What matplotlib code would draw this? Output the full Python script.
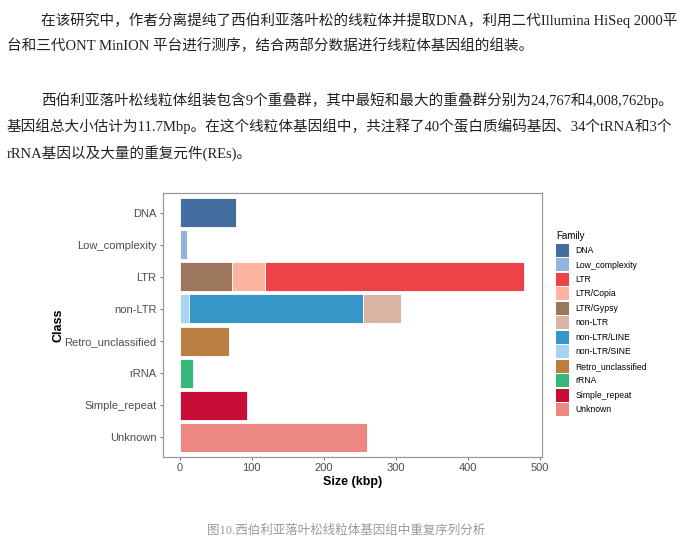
import matplotlib.pyplot as plt
from matplotlib.patches import Patch

# classes shown on the y axis (top to bottom)
classes = ['DNA', 'Low_complexity', 'LTR', 'non-LTR', 'Retro_unclassified',
           'rRNA', 'Simple_repeat', 'Unknown']

# legend order and colours
families = ['DNA', 'Low_complexity', 'LTR', 'LTR/Copia', 'LTR/Gypsy', 'non-LTR',
            'non-LTR/LINE', 'non-LTR/SINE', 'Retro_unclassified', 'rRNA',
            'Simple_repeat', 'Unknown']
family_colors = ['#456ea0', '#93b4dc', '#ef4247', '#feb5a0', '#9c775e', '#d9b5a6',
                 '#3696c8', '#a5d5f1', '#bb7e42', '#37b87b', '#c90d39', '#ec8881']

# bar segments, stacked from 0 outwards (kbp)
seg_class = ['DNA', 'Low_complexity', 'LTR', 'LTR', 'LTR', 'non-LTR', 'non-LTR',
             'non-LTR', 'Retro_unclassified', 'rRNA', 'Simple_repeat', 'Unknown']
seg_family = ['DNA', 'Low_complexity', 'LTR/Gypsy', 'LTR/Copia', 'LTR',
              'non-LTR/SINE', 'non-LTR/LINE', 'non-LTR', 'Retro_unclassified',
              'rRNA', 'Simple_repeat', 'Unknown']
seg_size = [78, 10, 72.6, 45.4, 360, 13.5, 241.5, 52, 69, 18, 94, 261]

x_ticks = [0, 100, 200, 300, 400, 500]

para_lines = [
    (41, 20, '在该研究中，作者分离提纯了西伯利亚落叶松的线粒体并提取DNA，利用二代Illumina HiSeq 2000平'),
    (7, 46, '台和三代ONT MinION 平台进行测序，结合两部分数据进行线粒体基因组的组装。'),
    (41, 100, '西伯利亚落叶松线粒体组装包含9个重叠群，其中最短和最大的重叠群分别为24,767和4,008,762bp。'),
    (7, 126, '基因组总大小估计为11.7Mbp。在这个线粒体基因组中，共注释了40个蛋白质编码基因、34个tRNA和3个'),
    (7, 153, 'rRNA基因以及大量的重复元件(REs)。'),
]
caption = '图10.西伯利亚落叶松线粒体基因组中重复序列分析'

W, H = 682, 558
fig = plt.figure(figsize=(W / 100, H / 100), dpi=100)
fig.patch.set_facecolor('white')

txt_fam = ['Liberation Serif', 'Noto Sans CJK SC', 'DejaVu Sans']
for x, y, s in para_lines:
    fig.text(x / W, 1 - y / H, s, family=txt_fam, fontsize=10.5, color='#222222',
             ha='left', va='center')
fig.text(346 / W, 1 - 531 / H, caption, family=txt_fam, fontsize=9,
         color='#9a9a9a', ha='center', va='center')

ax = fig.add_axes([162.7 / W, 101.3 / H, 379 / W, 263.4 / H])
fam_color = dict(zip(families, family_colors))
ypos = {c: i for i, c in enumerate(classes)}
left = {c: 0.0 for c in classes}
for c, f, v in zip(seg_class, seg_family, seg_size):
    ax.barh(ypos[c], v, left=left[c], height=0.9, color=fam_color[f],
            edgecolor='white', linewidth=0.6)
    left[c] += v

ax.set_ylim(len(classes) - 0.4, -0.6)
ax.set_xlim(-23.5, 503)
ax.set_yticks(range(len(classes)))
ax.set_yticklabels(classes)
ax.set_xticks(x_ticks)

lab_fam = ['Liberation Sans', 'DejaVu Sans']
for lab in ax.get_xticklabels() + ax.get_yticklabels():
    lab.set_family(lab_fam)
    lab.set_fontsize(8)
    lab.set_color('#4d4d4d')
ax.tick_params(length=2.5, width=0.6, color='#555555', pad=2)
for sp in ax.spines.values():
    sp.set_color('#9a9a9a')
    sp.set_linewidth(0.9)

ax.set_xlabel('Size (kbp)', family=lab_fam, fontsize=9, fontweight='bold', labelpad=2)
ax.set_ylabel('Class', family=lab_fam, fontsize=9, fontweight='bold', labelpad=0)

handles = [Patch(facecolor=col, edgecolor='none', label=f)
           for f, col in zip(families, family_colors)]
leg = fig.legend(handles=handles, title='Family', loc='upper left',
                 bbox_to_anchor=(556 / W, 1 - 231 / H), frameon=False,
                 prop={'family': lab_fam, 'size': 6.2},
                 title_fontproperties={'family': lab_fam, 'size': 7},
                 handlelength=1.55, handleheight=1.95, labelspacing=0.17,
                 handletextpad=0.7, borderpad=0, borderaxespad=0,
                 alignment='left')
leg._legend_box.sep = 2

fig.savefig('out.png', dpi=100)
